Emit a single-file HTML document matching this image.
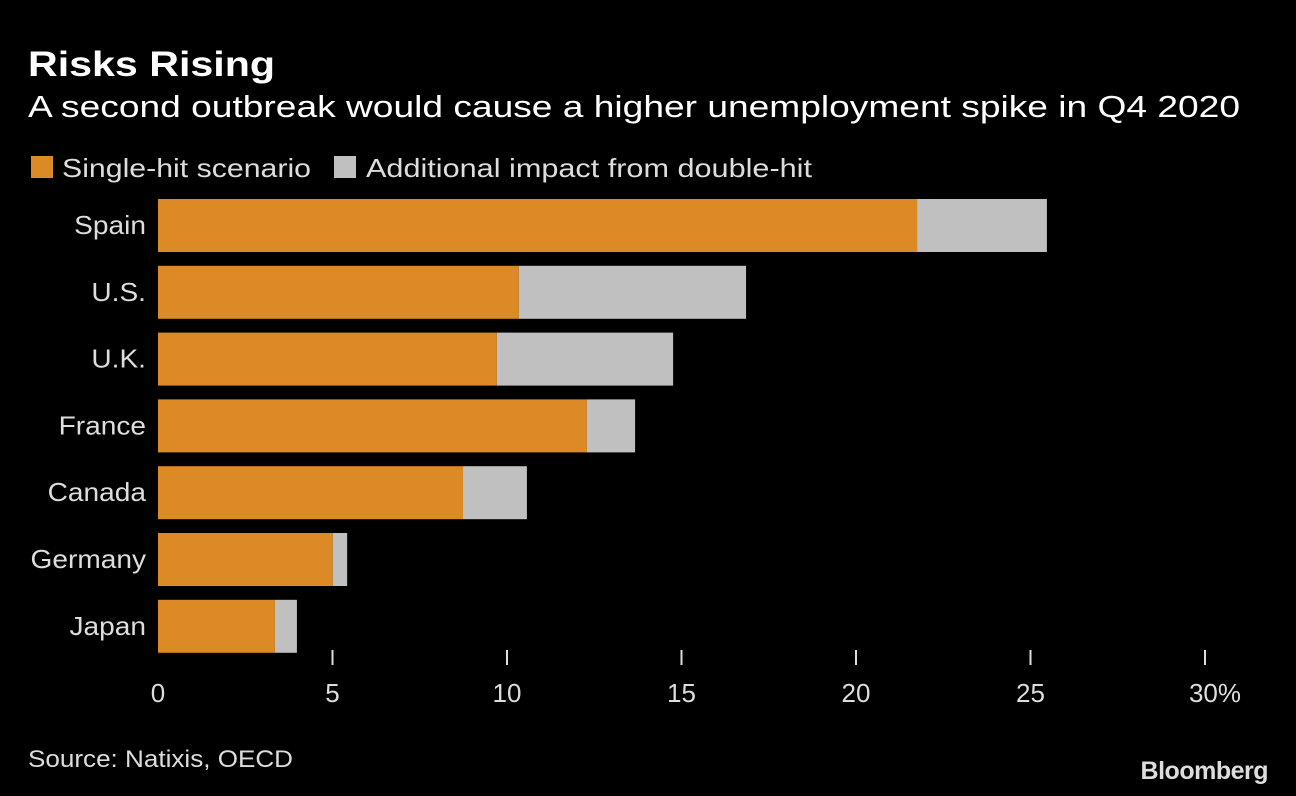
<!DOCTYPE html>
<html><head><meta charset="utf-8"><style>
body{margin:0;background:#000;width:1296px;height:796px;overflow:hidden;font-family:"Liberation Sans",sans-serif;color:#e6e6e6}
</style></head><body>
<svg width="1296" height="796" style="position:absolute;left:0;top:0">
<text x="28" y="76" font-size="35" font-weight="bold" fill="#fff" textLength="247" lengthAdjust="spacingAndGlyphs">Risks Rising</text>
<text x="28" y="117" font-size="31" fill="#fff" textLength="1212" lengthAdjust="spacingAndGlyphs">A second outbreak would cause a higher unemployment spike in Q4 2020</text>
<rect x="31" y="156" width="22" height="22" fill="#dc8a25"/>
<text x="62" y="177" font-size="26" fill="#ddd" textLength="249" lengthAdjust="spacingAndGlyphs">Single-hit scenario</text>
<rect x="334" y="156" width="22" height="22" fill="#c0c0c0"/>
<text x="366" y="177" font-size="26" fill="#ddd" textLength="446" lengthAdjust="spacingAndGlyphs">Additional impact from double-hit</text>
<g id="plot"></g>
<text x="28" y="767" font-size="24" fill="#ddd" textLength="265" lengthAdjust="spacingAndGlyphs">Source: Natixis, OECD</text>
<text x="1268" y="779" font-size="25" font-weight="bold" fill="#ddd" text-anchor="end" letter-spacing="-0.5">Bloomberg</text>
</svg>
<script>
const countries=["Spain","U.S.","U.K.","France","Canada","Germany","Japan"];
const singleHit=[21.75,10.34,9.71,12.29,8.74,5.01,3.35];
const doubleHitTotal=[25.47,16.85,14.76,13.67,10.57,5.42,3.98];
const ticks=[0,5,10,15,20,25,30];
const tickLabels=["0","5","10","15","20","25","30%"];
const NS="http://www.w3.org/2000/svg";
const g=document.getElementById('plot');
const x=v=>158+v*34.9;
const y=i=>199+i*66.8;
function mk(t,a){const e=document.createElementNS(NS,t);for(const k in a)e.setAttribute(k,a[k]);g.appendChild(e);return e;}
countries.forEach((c,i)=>{
 const l=mk('text',{x:146,y:y(i)+35,'font-size':26,fill:'#ddd','text-anchor':'end'});l.textContent=c;
 
 
 const w=l.getComputedTextLength();l.setAttribute('textLength',w*1.08);l.setAttribute('lengthAdjust','spacingAndGlyphs');
 const a=mk('rect',{x:x(0),y:y(i),width:x(singleHit[i])-x(0),height:53,fill:'#dc8a25'});
 
 
 const b=mk('rect',{x:x(singleHit[i]),y:y(i),width:x(doubleHitTotal[i])-x(singleHit[i]),height:53,fill:'#c0c0c0'});
 
 
});
ticks.forEach((t,i)=>{
 if(i>0){const m=mk('line',{x1:x(t),x2:x(t),y1:650,y2:665,stroke:'#ddd','stroke-width':2});
 
 }
 const l=mk('text',{x:x(t)+(i==6?10:0),y:702,'font-size':26,fill:'#ddd','text-anchor':'middle'});l.textContent=tickLabels[i];
 
 
});
</script>
</body></html>
